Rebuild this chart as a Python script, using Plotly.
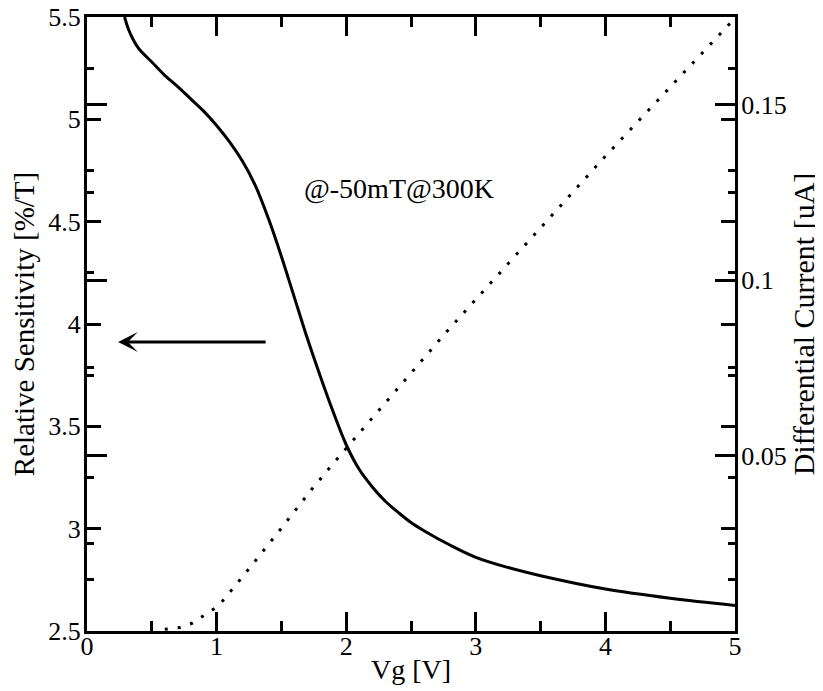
import plotly.graph_objects as go

# Relative sensitivity (left axis) vs gate voltage
vg_sens = [0.29, 0.32, 0.36, 0.40, 0.50, 0.60, 0.70, 0.80, 0.90, 1.00, 1.10, 1.20,
           1.30, 1.40, 1.50, 1.60, 1.70, 1.80, 1.90, 2.00, 2.10, 2.20, 2.30, 2.40,
           2.50, 2.60, 2.80, 3.00, 3.25, 3.50, 4.00, 4.50, 5.00]
sens = [5.50, 5.44, 5.385, 5.345, 5.28, 5.215, 5.16, 5.10, 5.04, 4.97, 4.89, 4.795,
        4.675, 4.515, 4.33, 4.13, 3.93, 3.745, 3.57, 3.41, 3.29, 3.205, 3.135, 3.08,
        3.03, 2.99, 2.92, 2.86, 2.81, 2.77, 2.705, 2.66, 2.625]

# Differential current (right axis) vs gate voltage
vg_cur = [0.60, 0.72, 0.81, 0.89, 0.975, 1.047, 1.232, 1.489, 1.734, 1.926, 2.055,
          2.775, 3.984, 4.948, 5.0]
cur = [0.0005, 0.001, 0.0022, 0.0041, 0.0062, 0.0086, 0.0169, 0.0288, 0.0404, 0.0489,
       0.0544, 0.0853, 0.1347, 0.1727, 0.1747]

x_ticks = [0, 1, 2, 3, 4, 5]
y_ticks = [2.5, 3, 3.5, 4, 4.5, 5, 5.5]
y2_ticks = [0.05, 0.1, 0.15]
y2_minor = [0.025, 0.075, 0.125, 0.175]

FONT = "Liberation Serif"

fig = go.Figure()
fig.add_trace(go.Scatter(x=vg_sens, y=sens, mode="lines",
                         line=dict(color="black", width=3, shape="spline", smoothing=1.0),
                         showlegend=False))
fig.add_trace(go.Scatter(x=vg_cur, y=cur, mode="lines", yaxis="y2",
                         line=dict(color="black", width=3, dash="3px,10px"),
                         showlegend=False))

fig.add_annotation(x=0.24, y=3.912, ax=1.39, ay=3.912, xref="x", yref="y",
                   axref="x", ayref="y", text="", showarrow=True,
                   arrowhead=3, arrowwidth=3, arrowsize=1.1, arrowcolor="black")
fig.add_annotation(x=2.407, y=4.66, xref="x", yref="y", text="@-50mT@300K",
                   showarrow=False, font=dict(family=FONT, size=28, color="black"))

axis_common = dict(showline=True, linecolor="black", linewidth=3, ticks="inside",
                   tickcolor="black", tickwidth=2.5, showgrid=False, zeroline=False,
                   automargin=False, ticklabeloverflow="allow",
                   tickfont=dict(family=FONT, size=26, color="black"))

# The page body adds an 8px offset, so the figure is sized to fit inside the window.
fig.update_layout(
    width=815, height=683,
    margin=dict(l=79, r=88, t=9, b=60),
    paper_bgcolor="white", plot_bgcolor="white",
    font=dict(family=FONT, size=26, color="black"),
    xaxis=dict(range=[0, 5], tickmode="array", tickvals=x_ticks, ticklen=19,
               mirror="ticks", ticklabelstandoff=-10,
               minor=dict(dtick=0.5, ticks="inside", ticklen=10, tickwidth=2.5, tickcolor="black"),
               title=dict(text="Vg [V]", font=dict(family=FONT, size=28), standoff=0),
               **axis_common),
    yaxis=dict(range=[2.5, 5.5], tickmode="array", tickvals=y_ticks, ticklen=14,
               mirror="ticks", ticklabelstandoff=-2,
               minor=dict(dtick=0.25, ticks="inside", ticklen=7, tickwidth=2.5, tickcolor="black"),
               title=dict(text="Relative Sensitivity [%/T]", font=dict(family=FONT, size=29), standoff=18),
               **axis_common),
    yaxis2=dict(range=[0, 0.175], overlaying="y", side="right", tickmode="array",
                tickvals=y2_ticks, ticklen=20, mirror="ticks", ticklabelstandoff=-2,
                minor=dict(tickmode="array", tickvals=y2_minor, ticks="inside", ticklen=7,
                           tickwidth=2.5, tickcolor="black"),
                title=dict(text="Differential Current [uA]", font=dict(family=FONT, size=30), standoff=6),
                **axis_common),
)

fig.write_html("out.html")
